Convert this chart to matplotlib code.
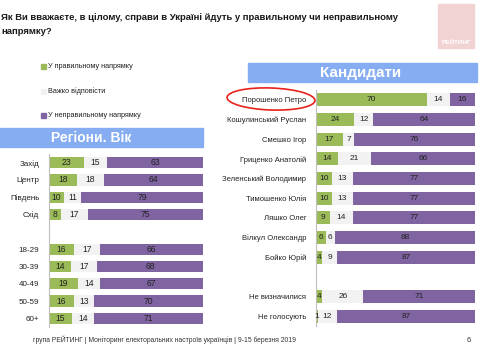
import matplotlib.pyplot as plt
import numpy as np
from matplotlib.patches import Rectangle, Ellipse

plt.rcParams['font.family'] = ['Liberation Sans', 'DejaVu Sans']

# Дані: регіони та вік
reg_labels = ['Захід', 'Центр', 'Південь', 'Схід', '18-29', '30-39', '40-49', '50-59', '60+']
reg_pos = [0, 1, 2, 3, 5, 6, 7, 8, 9]
reg_right = [23, 18, 10, 8, 16, 14, 19, 16, 15]
reg_hard = [15, 18, 11, 17, 17, 17, 14, 13, 14]
reg_wrong = [63, 64, 79, 75, 66, 68, 67, 70, 71]

# Дані: кандидати
cand_labels = ['Порошенко Петро', 'Кошулинський Руслан', 'Смешко Ігор', 'Гриценко Анатолій',
               'Зеленський Володимир', 'Тимошенко Юлія', 'Ляшко Олег', 'Вілкул Олександр',
               'Бойко Юрій', 'Не визначилися', 'Не голосують']
cand_pos = [0, 1, 2, 3, 4, 5, 6, 7, 8, 10, 11]
cand_right = [70, 24, 17, 14, 10, 10, 9, 6, 4, 4, 1]
cand_hard = [14, 12, 7, 21, 13, 13, 14, 6, 9, 26, 12]
cand_wrong = [16, 64, 76, 66, 77, 77, 77, 88, 87, 71, 87]

legend_labels = ['У правильному напрямку', 'Важко відповісти', 'У неправильному напрямку']
colors = ['#9bbb59', '#f2f2f2', '#8064a2']

W, H = 480, 348
fig = plt.figure(figsize=(4.8, 3.48), dpi=100)
fig.patch.set_facecolor('white')


def px_axes(x0, y0, x1, y1):
    # координати в пікселях (від верхнього лівого кута)
    return fig.add_axes([x0 / W, 1 - y1 / H, (x1 - x0) / W, (y1 - y0) / H])


def stacked(ax, pos, labels, right, hard, wrong, nrows, fs, lfs):
    right = np.array(right, float)
    hard = np.array(hard, float)
    wrong = np.array(wrong, float)
    tot = right + hard + wrong
    parts = [right / tot * 100, hard / tot * 100, wrong / tot * 100]
    raw = [right, hard, wrong]
    left = np.zeros(len(pos))
    for p, r, c in zip(parts, raw, colors):
        ax.barh(pos, p, left=left, height=0.65, color=c, edgecolor='none')
        for y, l, w, v in zip(pos, left, p, r):
            ax.text(l + w / 2, y, '%d' % v, ha='center', va='center', fontsize=fs, color='#222222')
        left = left + p
    ax.set_xlim(0, 100)
    ax.set_ylim(nrows - 0.5, -0.5)
    ax.set_yticks(pos)
    ax.set_yticklabels(labels, fontsize=lfs, color='#222222')
    ax.set_xticks([])
    ax.tick_params(axis='y', length=0, pad=7)
    for s in ['top', 'right', 'bottom']:
        ax.spines[s].set_visible(False)
    ax.spines['left'].set_color('#bfbfbf')
    ax.spines['left'].set_linewidth(0.8)
    ax.patch.set_alpha(0)


ax1 = px_axes(49, 154, 203, 327)
stacked(ax1, reg_pos, reg_labels, reg_right, reg_hard, reg_wrong, 10, 6.2, 5.8)

ax2 = px_axes(316, 90, 475, 326)
stacked(ax2, cand_pos, cand_labels, cand_right, cand_hard, cand_wrong, 12, 6.0, 5.5)

# заголовок
fig.text(1 / W, 1 - 18 / H, 'Як Ви вважаєте, в цілому, справи в Україні йдуть у правильному чи неправильному',
         fontsize=6.8, fontweight='bold', color='#1a1a1a', va='center')
fig.text(1 / W, 1 - 32 / H, 'напрямку?', fontsize=6.8, fontweight='bold', color='#1a1a1a', va='center')

# банери
fig.patches.append(Rectangle((0, 1 - 147 / H), 203 / W, 19 / H, transform=fig.transFigure,
                             color='#86adf2', zorder=0))
fig.text(91 / W, 1 - 137.5 / H, 'Регіони. Вік', ha='center', va='center', fontsize=10,
         fontweight='heavy', color='white')
fig.patches.append(Rectangle((248 / W, 1 - 82 / H), 229 / W, 19 / H, transform=fig.transFigure,
                             color='#86adf2', zorder=0))
fig.text(361 / W, 1 - 72.5 / H, 'Кандидати', ha='center', va='center', fontsize=11,
         fontweight='heavy', color='white')

# легенда
for i, (lab, c) in enumerate(zip(legend_labels, colors)):
    y = 66 + 25 * i
    fig.patches.append(Rectangle((41 / W, 1 - (y + 2.5) / H), 5 / W, 5 / H,
                                 transform=fig.transFigure, color=c))
    fig.text(48 / W, 1 - y / H, lab, fontsize=5.2, color='#222222', va='center')

# червоний овал
fig.patches.append(Ellipse((271 / W, 1 - 99 / H), 88 / W, 22 / H, angle=-3,
                           transform=fig.transFigure, fill=False, edgecolor='#e8221c', linewidth=1.2))

# логотип
fig.patches.append(Rectangle((438 / W, 1 - 48 / H), 36 / W, 44 / H, transform=fig.transFigure,
                             color='#f2d3d3'))
fig.text(456 / W, 1 - 42 / H, 'РЕЙТИНГ', ha='center', va='center', fontsize=4.6,
         fontweight='bold', color='white')

# підвал
fig.text(33 / W, 1 - 340 / H,
         'група РЕЙТИНГ | Моніторинг електоральних настроїв українців | 9-15 березня 2019',
         fontsize=4.9, color='#333333', va='center')
fig.text(467 / W, 1 - 341 / H, '6', fontsize=5.5, color='#333333', va='center')

fig.savefig('out.png', dpi=100)
